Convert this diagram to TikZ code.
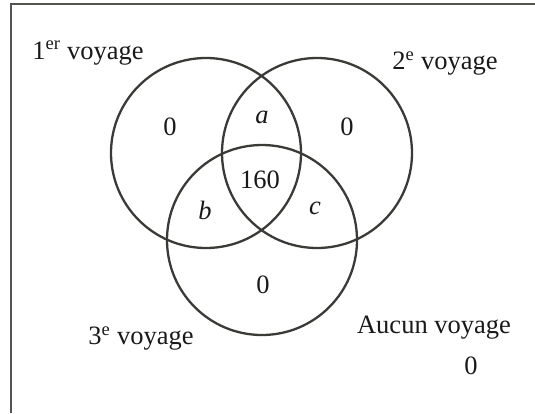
\documentclass[tikz,border=0pt]{standalone}
\usepackage{fontspec}
\setmainfont{Liberation Serif}
\definecolor{lineclr}{HTML}{3A3A36}
\definecolor{frameclr}{HTML}{55554F}
\tikzset{
  setc/.style={circle, draw=lineclr, line width=2.3pt, minimum size=190pt, inner sep=0pt},
  lbl/.style={inner sep=0pt, font=\fontsize{26.5}{30}\selectfont, text=black!90},
}
\begin{document}
\begin{tikzpicture}[x=1pt,y=-1pt]
\useasboundingbox (0,0) rectangle (535,413);
\draw[frameclr, line width=2.8pt] (11,413) -- (11,4) -- (535,4);
\node[setc] (c1) at (206,153) {};
\node[setc] (c2) at (317,153) {};
\node[setc] (c3) at (262,240) {};
\node[lbl] (t1) at (88,53) {1\textsuperscript{er} voyage};
\node[lbl] (t2) at (445,63) {2\textsuperscript{e} voyage};
\node[lbl] (t3) at (141,338) {3\textsuperscript{e} voyage};
\node[lbl] (t4) at (434,328) {Aucun voyage};
\node[lbl] (z0) at (471,366) {0};
\node[lbl] (z1) at (170,127) {0};
\node[lbl] (z2) at (347,127) {0};
\node[lbl] (z3) at (263,285) {0};
\node[lbl] (za) at (262,117) {\textit{a}};
\node[lbl] (zb) at (205,210) {\textit{b}};
\node[lbl] (zc) at (315,208) {\textit{c}};
\node[lbl] (zm) at (260,180) {160};
\end{tikzpicture}
\end{document}
